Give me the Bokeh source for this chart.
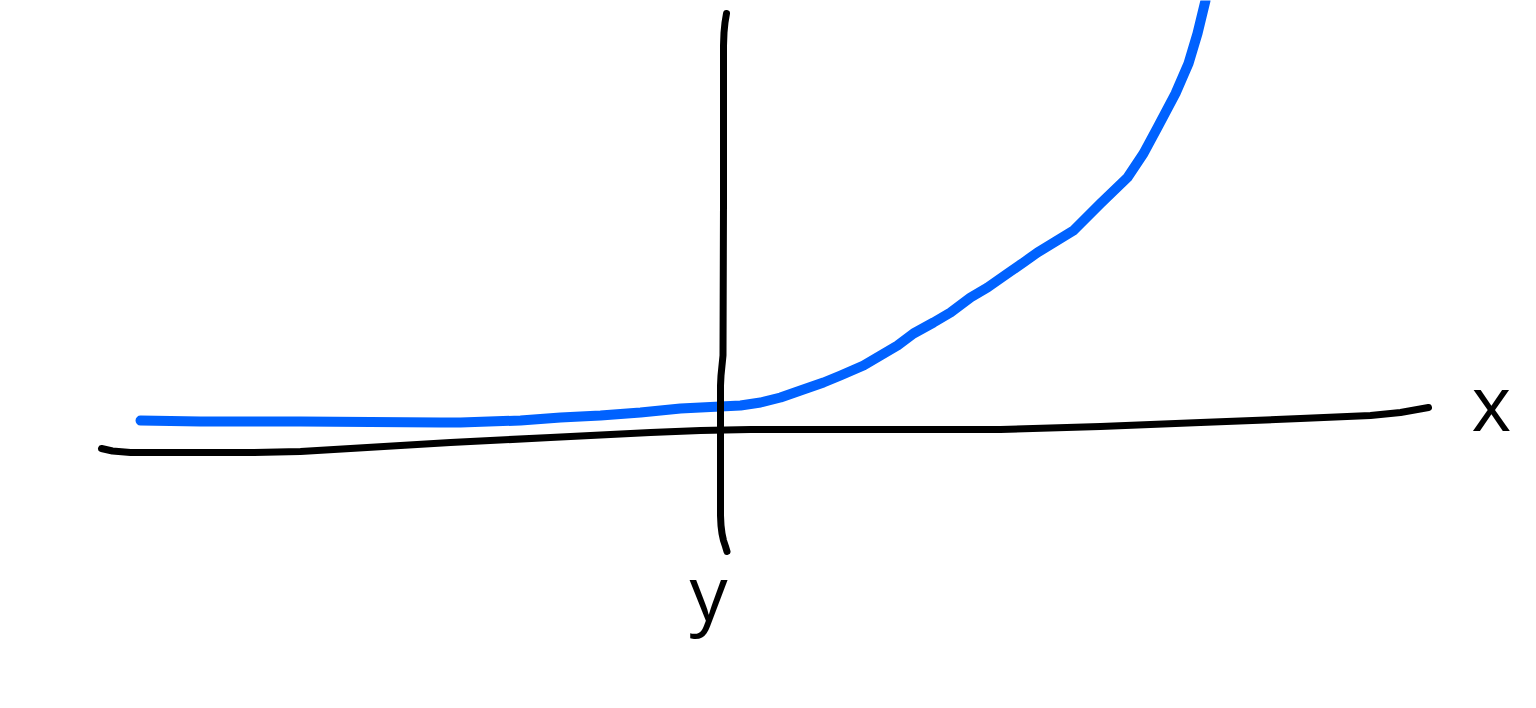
from bokeh.plotting import figure
from bokeh.models import Range1d
from bokeh.core.properties import value
from bokeh.embed import file_html
from bokeh.resources import INLINE

# Hand-drawn sketch, values (page pixel coordinates, y downwards)
curve_x = [140, 200, 300, 440, 460, 520, 560, 600, 640, 680, 720, 740, 760, 780, 800, 823,
           840, 863, 880, 897, 913, 933, 950, 970, 987, 1007, 1023, 1037, 1073, 1100, 1127,
           1143, 1157, 1175, 1188, 1197, 1205]
curve_y = [420, 421, 421, 422, 422, 420, 417, 415, 412, 408, 406, 405, 402, 397, 390, 382,
           375, 365, 355, 345, 333, 322, 312, 297, 287, 273, 262, 252, 230, 203, 177,
           153, 127, 93, 63, 33, 0]

xaxis_x = [101, 112, 130, 250, 300, 350, 450, 550, 650, 700, 750, 1000, 1100, 1200, 1300, 1370, 1400, 1428]
xaxis_y = [448, 450.5, 452, 452, 451, 448, 442, 437, 432, 430, 429, 429, 426, 422, 418, 415, 412, 407]

yaxis_x = [726, 724.5, 723.5, 723, 723, 722.5, 721.5, 720.5, 720, 720, 720.5, 721.5, 723, 725, 726.5]
yaxis_y = [13, 22, 32, 45, 200, 355, 365, 375, 385, 515, 525, 533, 540, 546, 551]

label_text = ["x", "y"]
label_x = [1491, 708]
label_y = [401, 591]

p = figure(width=1520, height=692, output_backend="svg", toolbar_location=None,
           x_range=Range1d(0, 1520), y_range=Range1d(692, 0),
           min_border=0, outline_line_color=None,
           background_fill_color="white", border_fill_color="white")
p.axis.visible = False
p.grid.visible = False

p.line(curve_x, curve_y, line_color="#0062ff", line_width=10, line_cap="round", line_join="round")
p.line(xaxis_x, xaxis_y, line_color="black", line_width=7, line_cap="round", line_join="round")
p.line(yaxis_x, yaxis_y, line_color="black", line_width=7, line_cap="round", line_join="round")

p.text(x=label_x, y=label_y, text=label_text, text_font=value("Open Sans"),
       text_font_size="76px", text_align="center", text_baseline="alphabetic",
       text_color="black")

open("out.html", "w").write(file_html(p, INLINE))
